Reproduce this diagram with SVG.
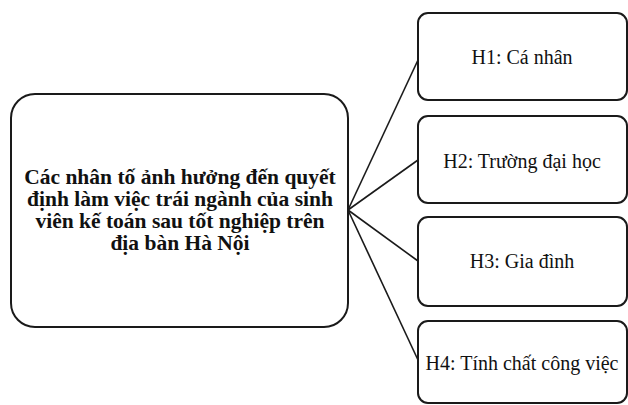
<svg xmlns="http://www.w3.org/2000/svg" width="628" height="405" viewBox="0 0 628 405">
<style>
.box{fill:#fff;stroke:#1a1a1a;stroke-width:2}
.conn line{stroke:#1a1a1a;stroke-width:1.6}
.main{font-family:"Liberation Serif","Times New Roman",serif;font-weight:bold;font-size:21.5px;fill:#111;text-anchor:middle}
.lbl{font-family:"Liberation Serif","Times New Roman",serif;font-size:20px;fill:#111;text-anchor:middle}
</style>
<rect width="628" height="405" fill="#fff"/>
<g id="connectors" class="conn">
<line x1="348" y1="210" x2="418" y2="60"/>
<line x1="348" y1="210" x2="418" y2="160"/>
<line x1="348" y1="210" x2="418" y2="261"/>
<line x1="348" y1="210" x2="418" y2="360"/>
</g>
<g id="main">
<rect class="box" x="11" y="94" width="337" height="233" rx="24"/>
<text class="main"><tspan x="180" y="184">Các nhân tố ảnh hưởng đến quyết</tspan><tspan x="180" y="206">định làm việc trái ngành của sinh</tspan><tspan x="180" y="228">viên kế toán sau tốt nghiệp trên</tspan><tspan x="180" y="250">địa bàn Hà Nội</tspan></text>
</g>
<g id="h1">
<rect class="box" x="418" y="13" width="209" height="87" rx="10"/>
<text class="lbl" x="522" y="64">H1: Cá nhân</text>
</g>
<g id="h2">
<rect class="box" x="418" y="116" width="209" height="87" rx="10"/>
<text class="lbl" x="522" y="168">H2: Trường đại học</text>
</g>
<g id="h3">
<rect class="box" x="418" y="217" width="209" height="89" rx="10"/>
<text class="lbl" x="522" y="268">H3: Gia đình</text>
</g>
<g id="h4">
<rect class="box" x="418" y="321" width="209" height="82" rx="10"/>
<text class="lbl" x="522" y="370">H4: Tính chất công việc</text>
</g>
</svg>
